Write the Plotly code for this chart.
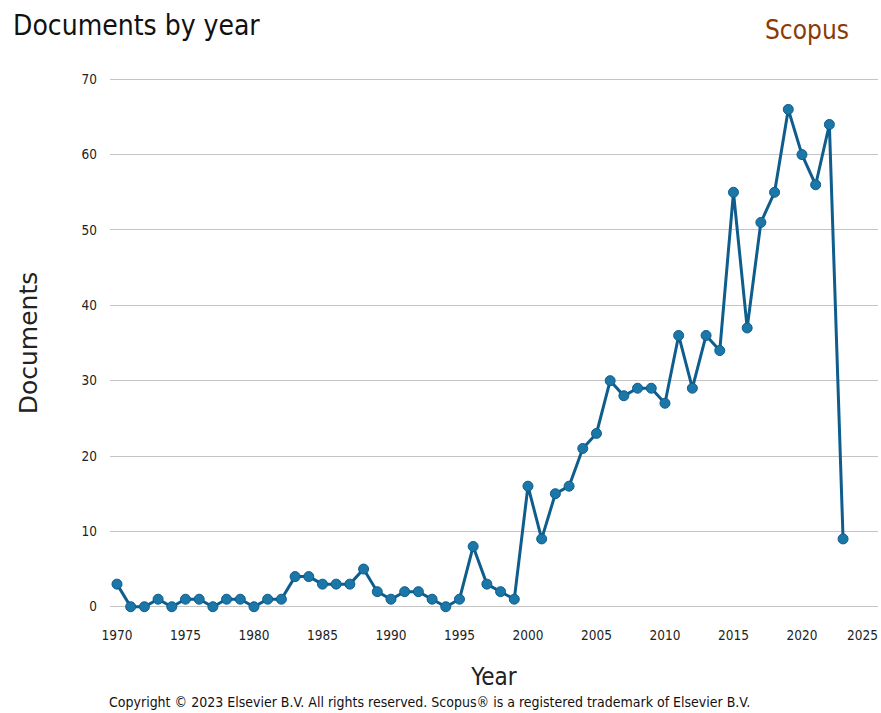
import plotly.graph_objects as go

years = list(range(1970, 2024))
documents = [3, 0, 0, 1, 0, 1, 1, 0, 1, 1,
             0, 1, 1, 4, 4, 3, 3, 3, 5, 2,
             1, 2, 2, 1, 0, 1, 8, 3, 2, 1,
             16, 9, 15, 16, 21, 23, 30, 28, 29, 29,
             27, 36, 29, 36, 34, 55, 37, 51, 55, 66,
             60, 56, 64, 9]
x_ticks = list(range(1970, 2021, 5))
last_x_tick = 2025
y_ticks = list(range(0, 71, 10))

FONT = "DejaVu Sans Condensed, DejaVu Sans, sans-serif"
FONT_WIDE = "DejaVu Sans, sans-serif"

fig = go.Figure()
fig.add_trace(go.Scatter(
    x=years, y=documents, mode="lines+markers",
    line=dict(color="#0f5d8c", width=3),
    marker=dict(color="#1a77a8", size=10, line=dict(color="#0f5d8c", width=1)),
    cliponaxis=False, showlegend=False,
))

fig.update_layout(
    width=881, height=713,
    margin=dict(l=110, r=3, t=77, b=104),
    paper_bgcolor="white", plot_bgcolor="white",
    font=dict(family=FONT, color="#222"),
    xaxis=dict(range=[1969.49, 2025.55], tickvals=x_ticks, showgrid=False,
               zeroline=False, showline=False, ticks="",
               ticklabelstandoff=16,
               tickfont=dict(size=13.5, color="#222"),
               title=dict(text="Year", font=dict(size=24, color="#222"), standoff=26)),
    yaxis=dict(range=[-0.3, 70.3], tickvals=y_ticks, showgrid=True, gridcolor="#c4c4c4",
               gridwidth=1, zeroline=False, showline=False, ticks="",
               ticklabelstandoff=12,
               tickfont=dict(size=13.5, color="#222"),
               title=dict(text="Documents", font=dict(size=25, color="#222", family=FONT_WIDE),
                          standoff=36)),
)

# last tick label, nudged left so it stays inside the window as in the reference
fig.add_annotation(text=str(last_x_tick), xref="x", yref="paper",
                   x=last_x_tick, y=0, xshift=-8, yshift=-26,
                   xanchor="center", yanchor="middle", showarrow=False,
                   font=dict(size=13.5, color="#222", family=FONT))

fig.add_annotation(text="Documents by year", xref="paper", yref="paper",
                   x=0, y=1, xshift=-99, yshift=52, xanchor="left", yanchor="middle",
                   showarrow=False, font=dict(size=28, color="#111", family=FONT))
fig.add_annotation(text="Scopus", xref="paper", yref="paper",
                   x=1, y=1, xshift=-27, yshift=47, xanchor="right", yanchor="middle",
                   showarrow=False, font=dict(size=26, color="#8a3a06", family=FONT))
fig.add_annotation(text="Copyright © 2023 Elsevier B.V. All rights reserved. Scopus® is a registered trademark of Elsevier B.V.",
                   xref="paper", yref="paper", x=0.5, y=0, xshift=-65, yshift=-93,
                   xanchor="center", yanchor="middle", showarrow=False,
                   font=dict(size=14, color="#111", family=FONT))

fig.write_html("out.html", config={"displayModeBar": False},
               post_script="document.body.style.margin='0';")
